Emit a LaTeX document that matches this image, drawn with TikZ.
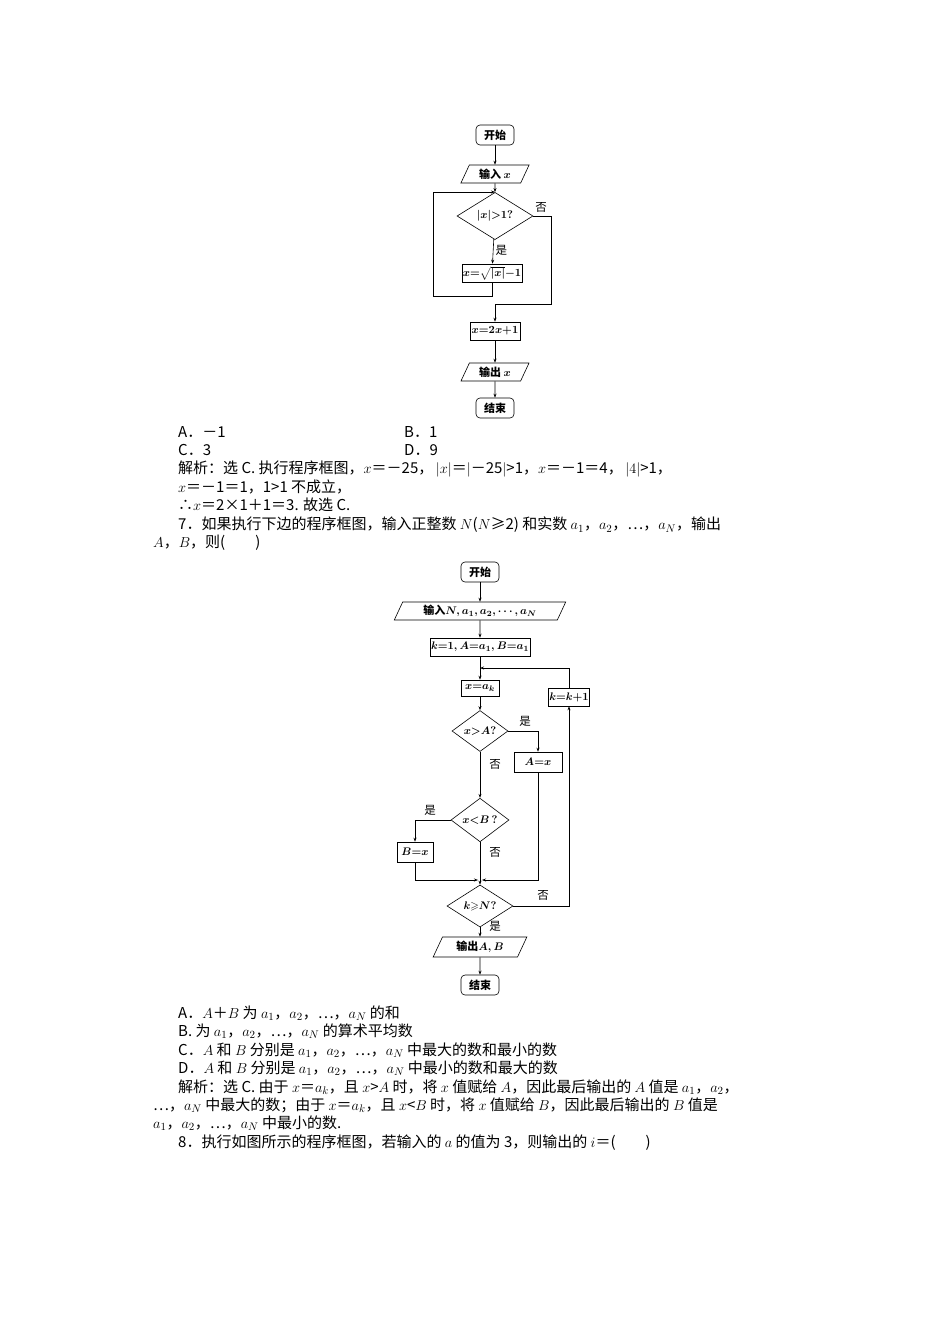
\documentclass[tikz,border=0pt]{standalone}
\usepackage{amssymb}
\usepackage{fontspec}
\setmainfont{Noto Sans CJK SC}
\usetikzlibrary{shapes.geometric,arrows.meta}
\tikzset{
  every node/.style={font=\fontsize{15}{17}\selectfont},
  txt/.style={anchor=west,inner sep=0pt},
  fc/.style={draw,line width=0.6pt,inner sep=1pt,font=\fontsize{11}{12}\selectfont\bfseries\boldmath},
  term/.style={fc,rounded corners=4pt,minimum width=38pt,minimum height=20pt},
  proc/.style={fc,minimum height=18pt},
  io/.style={fc,trapezium,trapezium left angle=65,trapezium right angle=115,minimum height=18pt,inner xsep=2pt},
  dec/.style={fc,diamond,inner sep=0pt},
  lbl/.style={inner sep=0pt,font=\fontsize{11.5}{12}\selectfont},
  ar/.style={line width=0.6pt,-{Stealth[length=4pt,width=3pt]}},
  ln/.style={line width=0.6pt}
}
\begin{document}
\begin{tikzpicture}[x=1pt,y=-1pt]
\useasboundingbox (0,0) rectangle (950,1344);
% ---- flowchart 1
\node[term] (s1) at (495,135) {开始};
\node[io,minimum width=60pt] (in1) at (495,174) {输入 $x$};
\node[dec,minimum width=76pt,minimum height=32pt] (d1) at (495,216) {$|x|{>}1?$};
\node[proc,minimum width=52pt] (b1) at (492,273) {$x{=}\sqrt{|x|}{-}1$};
\node[proc,minimum width=50pt] (b2) at (495,331) {$x{=}2x{+}1$};
\node[io,minimum width=56pt] (out1) at (495,372) {输出 $x$};
\node[term] (e1) at (495,408) {结束};
\coordinate (c1b) at (433,296);
\coordinate (c1c) at (433,192);
\coordinate (c1d) at (495,192);
\coordinate (c1e) at (551,216);
\coordinate (c1f) at (551,304);
\coordinate (c1g) at (495,304);
\draw[ar] (s1) -- (in1);
\draw[ar] (in1) -- (d1);
\draw[ar] (d1) -- (b1) node[lbl,pos=0.45,right=2pt] {是};
\draw[ar] (b1.south) |- (c1b) -- (c1c) -- (c1d);
\draw[ln] (d1.east) -- (c1e) -- (c1f) -- (c1g);
\draw[ar] (c1g) -- (b2);
\node[lbl] at (541,207) {否};
\draw[ar] (b2) -- (out1);
\draw[ar] (out1) -- (e1);
% ---- text 1
\node[txt] at (178,432) {A．－1};
\node[txt] at (404,432) {B．1};
\node[txt] at (178,450) {C．3};
\node[txt] at (404,450) {D．9};
\node[txt] at (178,469) {解析：选 C. 执行程序框图，$x$＝－25，\,$|x|$＝$|$－25$|$>1，$x$＝－1＝4，\,$|4|$>1，};
\node[txt] at (178,487) {$x$＝－1＝1，1>1 不成立，};
\node[txt] at (178,505) {∴$x$＝2×1＋1＝3. 故选 C.};
\node[txt] at (178,525) {7．如果执行下边的程序框图，输入正整数 $N$($N$≥2) 和实数 $a_1$，$a_2$，…，$a_N$，输出};
\node[txt] at (153,543) {$A$，$B$，则(　　)};
% ---- flowchart 2
\node[term] (s2) at (480,572) {开始};
\node[io,minimum width=112pt] (in2) at (480,611) {输入$N,a_1,a_2,\cdots,a_N$};
\node[proc,minimum width=100pt] (k1) at (480,647) {$k{=}1,A{=}a_1,B{=}a_1$};
\node[proc,minimum width=38pt,minimum height=16pt] (xa) at (480,688) {$x{=}a_k$};
\node[dec,minimum width=56pt,minimum height=28pt] (d2) at (480,731) {$x{>}A?$};
\node[proc,minimum width=48pt,minimum height=20pt] (ax) at (538,762) {$A{=}x$};
\node[dec,minimum width=58pt,minimum height=28pt] (d3) at (480,820) {$x{<}B\,?$};
\node[proc,minimum width=36pt,minimum height=20pt] (bx) at (415,852) {$B{=}x$};
\node[dec,minimum width=66pt,minimum height=26pt] (d4) at (480,906) {$k{\geqslant}N?$};
\node[proc,minimum width=41pt] (kk) at (569,697) {$k{=}k{+}1$};
\node[io,minimum width=64pt,minimum height=20pt] (out2) at (480,947) {输出$A,B$};
\node[term] (e2) at (480,985) {结束};
\coordinate (m) at (480,880);
\coordinate (lp) at (480,668);
\draw[ar] (s2) -- (in2);
\draw[ar] (in2) -- (k1);
\draw[ar] (k1) -- (xa);
\draw[ar] (xa) -- (d2);
\draw[ar] (d2.east) -| (ax.north);
\node[lbl] at (525,721) {是};
\draw[ar] (d2) -- (d3);
\node[lbl] at (495,764) {否};
\draw[ar] (d3.west) -| (bx.north);
\node[lbl] at (430,810) {是};
\node[lbl] at (495,852) {否};
\draw[ar] (ax.south) |- ([xshift=2pt]m);
\draw[ar] (bx.south) |- ([xshift=-2pt]m);
\draw[ar] (d3) -- (d4);
\draw[ar] (d4.east) -| (kk.south);
\node[lbl] at (543,895) {否};
\draw[ar] (kk.north) |- (lp);
\draw[ar] (d4) -- (out2);
\node[lbl] at (495,926) {是};
\draw[ar] (out2) -- (e2);
% ---- text 2
\node[txt] at (178,1013) {A．$A$＋$B$ 为 $a_1$，$a_2$，…，$a_N$ 的和};
\node[txt] at (178,1031) {B. 为 $a_1$，$a_2$，…，$a_N$ 的算术平均数};
\node[txt] at (178,1050) {C．$A$ 和 $B$ 分别是 $a_1$，$a_2$，…，$a_N$ 中最大的数和最小的数};
\node[txt] at (178,1068) {D．$A$ 和 $B$ 分别是 $a_1$，$a_2$，…，$a_N$ 中最小的数和最大的数};
\node[txt] at (178,1087) {解析：选 C. 由于 $x$＝$a_k$，且 $x$>$A$ 时，将 $x$ 值赋给 $A$，因此最后输出的 $A$ 值是 $a_1$，$a_2$，};
\node[txt] at (153,1105) {…，$a_N$ 中最大的数；由于 $x$＝$a_k$，且 $x$<$B$ 时，将 $x$ 值赋给 $B$，因此最后输出的 $B$ 值是};
\node[txt] at (153,1123) {$a_1$，$a_2$，…，$a_N$ 中最小的数.};
\node[txt] at (178,1143) {8．执行如图所示的程序框图，若输入的 $a$ 的值为 3，则输出的 $i$＝(　　)};
\end{tikzpicture}
\end{document}
